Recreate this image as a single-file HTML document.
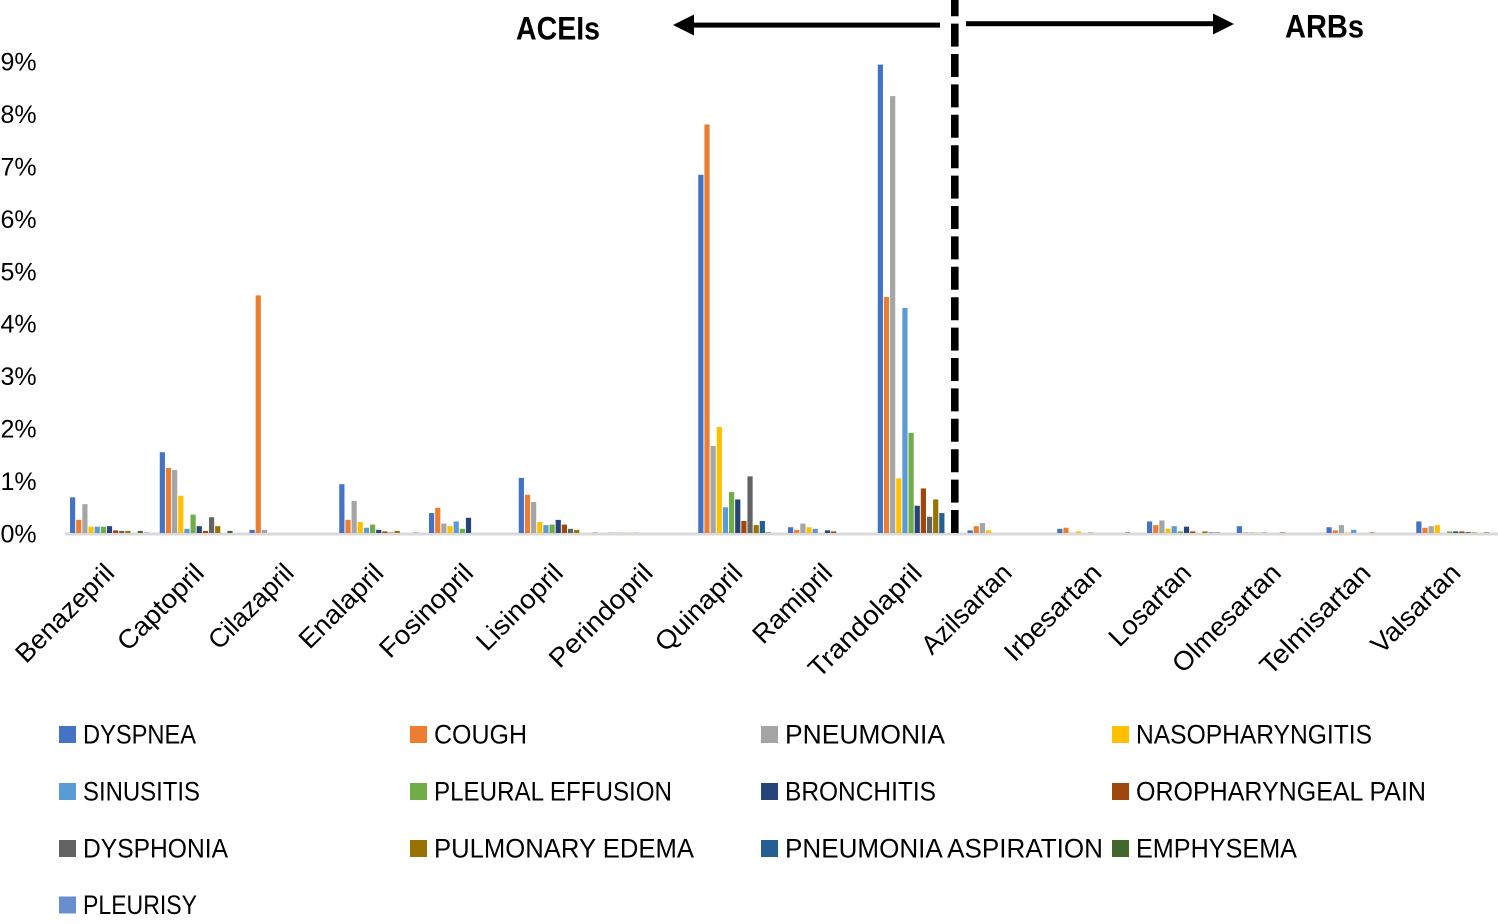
<!DOCTYPE html>
<html lang="en">
<head>
<meta charset="utf-8">
<title>Respiratory adverse events: ACEIs vs ARBs</title>
<style>
html,body{margin:0;padding:0;background:#fff;width:1498px;height:924px;overflow:hidden}
svg{display:block}
text{font-family:"Liberation Sans",sans-serif;fill:#000}
</style>
</head>
<body>
<svg id="chart" xmlns="http://www.w3.org/2000/svg" width="1498" height="924" viewBox="0 0 1498 924">
  <g id="gridless-plot">
    <rect x="65" y="532.5" width="1433" height="3" fill="#d9d9d9"></rect>
    <g id="bars" style="filter:blur(0.35px)"></g>
    <g id="y-ticks"></g>
    <g id="x-ticks"></g>
  </g>
  <g id="legend"></g>
  <g>
    <line x1="954.8" y1="533" x2="954.8" y2="-5" stroke="#000" stroke-width="7.6" stroke-dasharray="23 7.4" stroke-dashoffset="0"></line>
    <text x="516" y="39.5" font-size="32" font-weight="700" textLength="84" lengthAdjust="spacingAndGlyphs">ACEIs</text>
    <text x="1285" y="37.5" font-size="32" font-weight="700" textLength="79" lengthAdjust="spacingAndGlyphs">ARBs</text>
    <rect x="690" y="22.6" width="250" height="5" fill="#000"></rect>
    <polygon points="673,25 694,14.5 694,35.5" fill="#000"></polygon>
    <rect x="966" y="21.2" width="250" height="5" fill="#000"></rect>
    <polygon points="1234,24 1213,13.5 1213,34.5" fill="#000"></polygon>
  </g>
</svg>
<script>
const categories = ["Benazepril","Captopril","Cilazapril","Enalapril","Fosinopril","Lisinopril","Perindopril","Quinapril","Ramipril","Trandolapril","Azilsartan","Irbesartan","Losartan","Olmesartan","Telmisartan","Valsartan"];
const yTickValues = [0,1,2,3,4,5,6,7,8,9];
const seriesNames = ["DYSPNEA","COUGH","PNEUMONIA","NASOPHARYNGITIS","SINUSITIS","PLEURAL EFFUSION","BRONCHITIS","OROPHARYNGEAL PAIN","DYSPHONIA","PULMONARY EDEMA","PNEUMONIA ASPIRATION","EMPHYSEMA","PLEURISY"];
const dyspnea = [.68,1.54,.06,.93,.38,1.05,.005,6.83,.11,8.93,.05,.08,.22,.13,.11,.22];
const cough = [.25,1.24,4.53,.25,.48,.73,.005,7.79,.06,4.5,.13,.1,.15,.01,.05,.1];
const pneumonia = [.55,1.2,.06,.61,.18,.59,.005,1.66,.18,8.33,.19,0,.24,.01,.15,.13];
const nasopharyngitis = [.12,.71,0,.21,.13,.21,.005,2.02,.11,1.04,.05,.03,.08,.01,.01,.15];
const sinusitis = [.12,.08,0,.1,.22,.15,.005,.49,.08,4.29,0,0,.13,.01,.06,0];
const pleuralEffusion = [.12,.35,0,.16,.08,.16,0,.78,0,1.91,0,.01,.03,0,0,.03];
const bronchitis = [.13,.13,0,.06,.29,.25,0,.64,.05,.52,0,0,.12,0,0,.03];
const oropharyngealPain = [.05,.04,0,.03,0,.16,0,.23,.03,.85,0,0,.03,.01,.01,.03];
const dysphonia = [.04,.3,0,.01,0,.08,0,1.08,0,.31,0,0,0,0,0,.02];
const pulmonaryEdema = [.04,.13,0,.04,0,.06,0,.15,0,.64,0,0,.03,0,0,.01];
const pneumoniaAspiration = [0,0,0,0,0,0,0,.23,0,.38,0,0,.01,0,0,0];
const emphysema = [.04,.04,0,0,0,0,0,.01,0,0,0,.01,.01,0,0,.01];
const pleurisy = [.01,0,0,.01,0,.01,0,0,0,0,0,0,0,0,0,0];
const seriesValues = [dyspnea,cough,pneumonia,nasopharyngitis,sinusitis,pleuralEffusion,bronchitis,oropharyngealPain,dysphonia,pulmonaryEdema,pneumoniaAspiration,emphysema,pleurisy];

const palette = ["#4472C4","#ED7D31","#A5A5A5","#FFC000","#5B9BD5","#70AD47","#264478","#9E480E","#636363","#997300","#255E91","#43682B","#698ED0"];
const tickTextLengths = [127,110,108,107,120,110,134,111,100,148,115,125,104,141,144,114];
const legendTextLengths = [113,93,160,236,117,238,151,290,145,260,318,161,114];

const NS = "http://www.w3.org/2000/svg";
const plotLeft = 65, bandWidth = 89.75, baseY = 533, pxPerPercent = 52.45;
const barStep = 6.15, barWidth = 5.2, bandPad = 5;
const xBand = i => plotLeft + bandWidth * i;
const xBar = (i, s) => xBand(i) + bandPad + barStep * s;
const yValue = v => baseY - v * pxPerPercent;

const barsGroup = document.getElementById("bars");
seriesValues.forEach((values, s) => {
  values.forEach((v, i) => {
    const bar = document.createElementNS(NS, "rect");
    
    
    bar.setAttribute("x", xBar(i, s));
    bar.setAttribute("y", yValue(v));
    bar.setAttribute("width", barWidth);
    bar.setAttribute("height", baseY - yValue(v));
    bar.setAttribute("fill", palette[s]);
    barsGroup.appendChild(bar);
  });
});

const yTicks = document.getElementById("y-ticks");
yTickValues.forEach(v => {
  const t = document.createElementNS(NS, "text");
  
  
  t.setAttribute("x", 0.5);
  t.setAttribute("y", yValue(v) + 9.5);
  t.setAttribute("font-size", 25);
  t.textContent = v + "%";
  yTicks.appendChild(t);
});

const xTicks = document.getElementById("x-ticks");
categories.forEach((c, i) => {
  const ax = xBand(i) + bandWidth / 2 + 6, ay = 574.5;
  const t = document.createElementNS(NS, "text");
  
  
  t.setAttribute("text-anchor", "end");
  t.setAttribute("font-size", 26.5);
  t.setAttribute("x", ax);
  t.setAttribute("y", ay);
  t.setAttribute("textLength", tickTextLengths[i]);
  t.setAttribute("lengthAdjust", "spacingAndGlyphs");
  t.setAttribute("transform", "rotate(-45 " + ax + " " + ay + ")");
  t.textContent = c;
  xTicks.appendChild(t);
});

const legend = document.getElementById("legend");
const legendColX = [59, 410, 761, 1112], legendRowY = [726, 783, 840, 896.5];
seriesNames.forEach((name, s) => {
  const col = s % 4, row = Math.floor(s / 4);
  const swatch = document.createElementNS(NS, "rect");
  
  
  swatch.setAttribute("x", legendColX[col]);
  swatch.setAttribute("y", legendRowY[row]);
  swatch.setAttribute("width", 17);
  swatch.setAttribute("height", 17);
  swatch.setAttribute("fill", palette[s]);
  legend.appendChild(swatch);
  const t = document.createElementNS(NS, "text");
  
  
  t.setAttribute("x", legendColX[col] + 24);
  t.setAttribute("y", legendRowY[row] + 17.7);
  t.setAttribute("font-size", 27);
  t.setAttribute("textLength", legendTextLengths[s]);
  t.setAttribute("lengthAdjust", "spacingAndGlyphs");
  t.textContent = name;
  legend.appendChild(t);
});
</script>
</body>
</html>
